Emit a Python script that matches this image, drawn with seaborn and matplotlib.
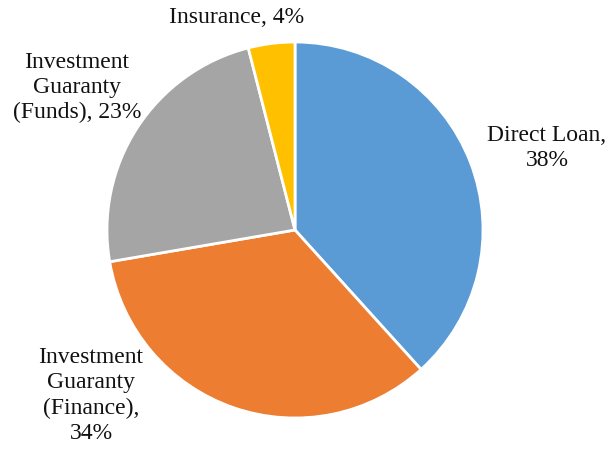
import matplotlib
matplotlib.use("Agg")
import matplotlib.pyplot as plt
import seaborn as sns

categories = ["Direct Loan", "Investment Guaranty (Finance)",
              "Investment Guaranty (Funds)", "Insurance"]
# shares as measured from the slice angles
shares = [38.3, 34.0, 23.7, 4.0]
label_texts = ["Direct Loan,\n38%", "Investment\nGuaranty\n(Finance),\n34%",
               "Investment\nGuaranty\n(Funds), 23%", "Insurance, 4%"]
colors = ["#5B9BD5", "#ED7D31", "#A5A5A5", "#FFC000"]

# label positions in pie-radius units (center = 0, 0)
label_pos = [(1.34, 0.436), (-1.085, -0.88), (-1.16, 0.76), (-0.309, 1.128)]

sns.set_theme(style="white")
plt.rcParams['font.family'] = ['Liberation Serif', 'DejaVu Serif']

fig = plt.figure(figsize=(6.11, 4.49), dpi=100)
ax = fig.add_axes([0, 0, 1, 1])
ax.pie(shares, colors=colors, startangle=90, counterclock=False,
       wedgeprops=dict(edgecolor='white', linewidth=2))
for txt, (x, y) in zip(label_texts, label_pos):
    ax.text(x, y, txt, ha='center', va='center', fontsize=17,
            color='#111111', linespacing=1.25)
ax.set_aspect('equal')
ax.set_xlim(-295 / 188, (611 - 295) / 188)
ax.set_ylim(-(449 - 230) / 188, 230 / 188)
ax.axis('off')
fig.savefig("out.png", dpi=100, facecolor='white')
